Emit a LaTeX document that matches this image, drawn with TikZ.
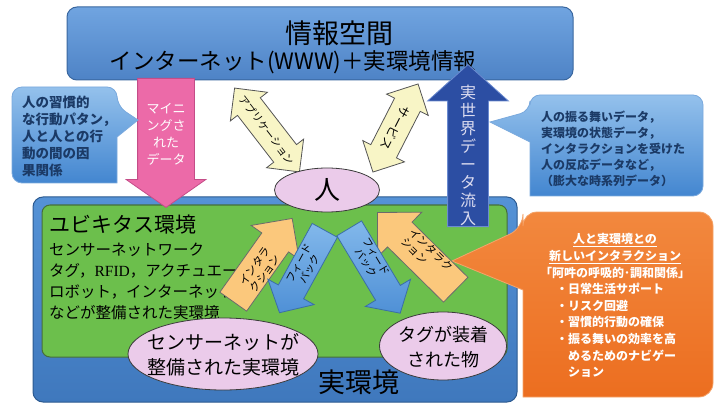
\documentclass[tikz,border=0pt]{standalone}
\usepackage{fontspec}
\setmainfont{Noto Sans CJK JP}
\newfontfamily\serifrm{Liberation Serif}
\usetikzlibrary{shapes.geometric,shapes.arrows}
\definecolor{infotop}{HTML}{70A4E0}
\definecolor{infobot}{HTML}{4E83C6}
\definecolor{infoborder}{HTML}{3A679F}
\definecolor{realtop}{HTML}{5592D6}
\definecolor{realbot}{HTML}{3F78BD}
\definecolor{realborder}{HTML}{2C5A90}
\definecolor{greenfill}{HTML}{6CBF4C}
\definecolor{greenborder}{HTML}{466E3A}
\definecolor{pinkfill}{HTML}{EC6AA8}
\definecolor{pinkborder}{HTML}{C44D88}
\definecolor{yellowfill}{HTML}{F8F5C6}
\definecolor{yellowborder}{HTML}{555555}
\definecolor{orangearr}{HTML}{FBC87C}
\definecolor{orangearrborder}{HTML}{6B6B6B}
\definecolor{fbtop}{HTML}{82B8EB}
\definecolor{fbbot}{HTML}{4F90D6}
\definecolor{fbborder}{HTML}{3B6EA6}
\definecolor{upfill}{HTML}{2C4EA3}
\definecolor{upborder}{HTML}{6B8BD0}
\definecolor{uptext}{HTML}{DCDCF0}
\definecolor{calltop}{HTML}{94C1EC}
\definecolor{callbot}{HTML}{4386D0}
\definecolor{callborder}{HTML}{7AA9DD}
\definecolor{calltext}{HTML}{1B3A66}
\definecolor{orangetop}{HTML}{F2883E}
\definecolor{orangebot}{HTML}{EC6E20}
\definecolor{orangeborder}{HTML}{F5A46A}
\definecolor{ellfill}{HTML}{EBCBEA}
\definecolor{ellborder}{HTML}{3C3C3C}
\begin{document}
\begin{tikzpicture}[x=1pt,y=-1pt,
  box/.style={draw, rounded corners=10pt, line width=1pt, inner sep=0pt},
  ell/.style={ellipse, draw=ellborder, fill=ellfill, line width=0.8pt, inner sep=0pt},
  lbl/.style={inner sep=0pt},
  sarr/.style={single arrow, inner sep=0pt, line width=0.8pt},
  darr/.style={double arrow, inner sep=0pt, line width=0.8pt},
  yarr/.style={darr, draw=yellowborder, fill=yellowfill, double arrow head extend=9pt, double arrow tip angle=90, inner ysep=14pt},
  oarr/.style={sarr, draw=orangearrborder, fill=orangearr, single arrow tip angle=90},
  fbarr/.style={sarr, draw=fbborder, top color=fbtop, bottom color=fbbot, single arrow tip angle=96, inner ysep=14pt, single arrow head extend=12pt},
  callout/.style={draw=callborder, line width=0.8pt, top color=calltop, bottom color=callbot},
  ocallout/.style={draw=orangeborder, line width=0.8pt, top color=orangetop, bottom color=orangebot},
]
\useasboundingbox (0,0) rectangle (717,406);

% information space
\node[box, draw=infoborder, top color=infotop, bottom color=infobot, minimum width=506pt, minimum height=73pt] (info) at (320,43.5) {};
\node[lbl, font=\fontsize{27}{30}\selectfont] (infotitle) at (339,33) {情報空間};
\node[lbl, font=\fontsize{22.5}{26}\selectfont] (infosub) at (293,62) {インターネット(WWW)＋実環境情報};

% real environment
\node[box, draw=realborder, top color=realtop, bottom color=realbot, minimum width=484pt, minimum height=205pt] (real) at (275,299.5) {};
\node[box, rounded corners=8pt, draw=greenborder, fill=greenfill, minimum width=465pt, minimum height=152pt] (green) at (274.5,281) {};
\node[lbl, anchor=west, font=\fontsize{21}{24}\selectfont] (ubi) at (49,225) {ユビキタス環境};
\node[lbl, anchor=west, align=left, font=\fontsize{15.5}{21}\selectfont] (ubitext) at (49,281.5) {センサーネットワーク\\タグ，{\serifrm RFID}，アクチュエー\\ロボット，インターネット\\などが整備された実環境};
\node[lbl, font=\fontsize{27}{30}\selectfont] (realtitle) at (359,382) {実環境};

% mining arrow
\node[sarr, draw=pinkborder, fill=pinkfill, inner ysep=28pt, single arrow head extend=11.5pt, single arrow tip angle=110, minimum height=129pt, rotate=-90, anchor=tail] (mining) at (166,78) {};
\node[lbl, align=center, text=white, font=\fontsize{13}{17}\selectfont] (miningtext) at (166,134) {マイニ\\ングさ\\れた\\データ};

% application / service
\node[yarr, minimum height=106pt, rotate=-52.3] (app) at (267,130) {};
\node[lbl, rotate=-52.3, font=\fontsize{10.5}{12}\selectfont] (apptext) at (267,130) {アプリケーション};
\node[yarr, minimum height=99pt, rotate=62.9] (serv) at (395.5,128) {};
\node[lbl, rotate=-117.1, font=\fontsize{12}{14}\selectfont] (servtext) at (395.5,128) {サービス};

% callouts
\path[callout] (12,87) [rounded corners=10pt] -- (117,87) -- (117,106) [sharp corners] -- (138,120) -- (117,137) -- (117,183) [rounded corners=10pt] -- (12,183) -- cycle;
\node[lbl, anchor=west, align=left, text=calltext, font=\bfseries\fontsize{13.5}{17}\selectfont] (habit) at (22,136) {人の習慣的\\な行動パタン，\\人と人との行\\動の間の因\\果関係};
\path[callout] (703,95) [rounded corners=10pt] -- (530,95) -- (530,111) [sharp corners] -- (490,122) -- (530,142) -- (530,196) [rounded corners=10pt] -- (703,196) -- cycle;
\node[lbl, anchor=west, align=left, text=calltext, font=\bfseries\fontsize{12}{16}\selectfont] (behave) at (541,149) {人の振る舞いデータ，\\実環境の状態データ，\\インタラクションを受けた\\人の反応データなど，\\（膨大な時系列データ）};
\path[ocallout] (713,212) [rounded corners=14pt] -- (523,212) -- (523,228) [sharp corners] -- (452,261) -- (523,290) -- (523,397) [rounded corners=14pt] -- (713,397) -- cycle;
\node[lbl, align=center, text=white, font=\bfseries\fontsize{12}{16.6}\selectfont] (newint) at (615,256) {\underline{人と実環境との}\\\underline{新しいインタラクション}\\「阿吽の呼吸的･調和関係」};
\node[lbl, anchor=west, align=left, text=white, font=\bfseries\fontsize{12}{16.6}\selectfont] (bullets) at (556,330.5) {・日常生活サポート\\・リスク回避\\・習慣的行動の確保\\・振る舞いの効率を高\\\hspace*{1em}めるためのナビゲー\\\hspace*{1em}ション};

% interaction / feedback arrows
\node[oarr, inner ysep=16pt, single arrow head extend=13pt, minimum height=102pt, rotate=54.7, anchor=tail] (intl) at (233,302) {};
\node[lbl, align=center, rotate=54.7, font=\fontsize{11}{12.5}\selectfont] (intltext) at (260,270) {インタラ\\クション};
\node[oarr, inner ysep=17pt, single arrow head extend=14pt, minimum height=110pt, rotate=135.4, anchor=tail] (intr) at (456,290) {};
\node[lbl, align=left, rotate=-44.6, font=\fontsize{11}{12.5}\selectfont] (intrtext) at (427,254) {インタラク\\ション};
\node[fbarr, minimum height=94pt, rotate=-118.8, anchor=tail] (fbl) at (325,230) {};
\node[lbl, align=center, rotate=61.2, font=\fontsize{10.5}{12}\selectfont] (fbltext) at (305,266) {フィード\\バック};
\node[fbarr, minimum height=99pt, rotate=-59, anchor=tail] (fbr) at (349,228) {};
\node[lbl, align=center, rotate=-59, font=\fontsize{10.5}{12}\selectfont] (fbrtext) at (371,260) {フィード\\バック};

% ellipses
\node[ell, minimum width=105pt, minimum height=44pt] (person) at (327,190) {};
\node[lbl, font=\fontsize{26}{28}\selectfont] (persontext) at (327,190) {人};
\node[ell, minimum width=190pt, minimum height=72pt] (sensor) at (223,354) {};
\node[lbl, align=center, font=\fontsize{19}{25}\selectfont] (sensortext) at (223,355) {センサーネットが\\整備された実環境};
\node[ell, minimum width=127pt, minimum height=68pt] (tagged) at (443,346) {};
\node[lbl, align=center, font=\fontsize{18}{25}\selectfont] (taggedtext) at (443,347) {タグが装着\\された物};

% real-world data inflow
\node[sarr, draw=upborder, fill=upfill, inner ysep=20pt, single arrow head extend=20pt, single arrow tip angle=96, minimum height=162pt, rotate=90, anchor=tail] (inflow) at (468,227) {};
\node[lbl, align=center, text=uptext, font=\fontsize{16}{18}\selectfont] (inflowtext) at (468,155) {実\\世\\界\\デ\\ー\\タ\\流\\入};
\end{tikzpicture}
\end{document}
